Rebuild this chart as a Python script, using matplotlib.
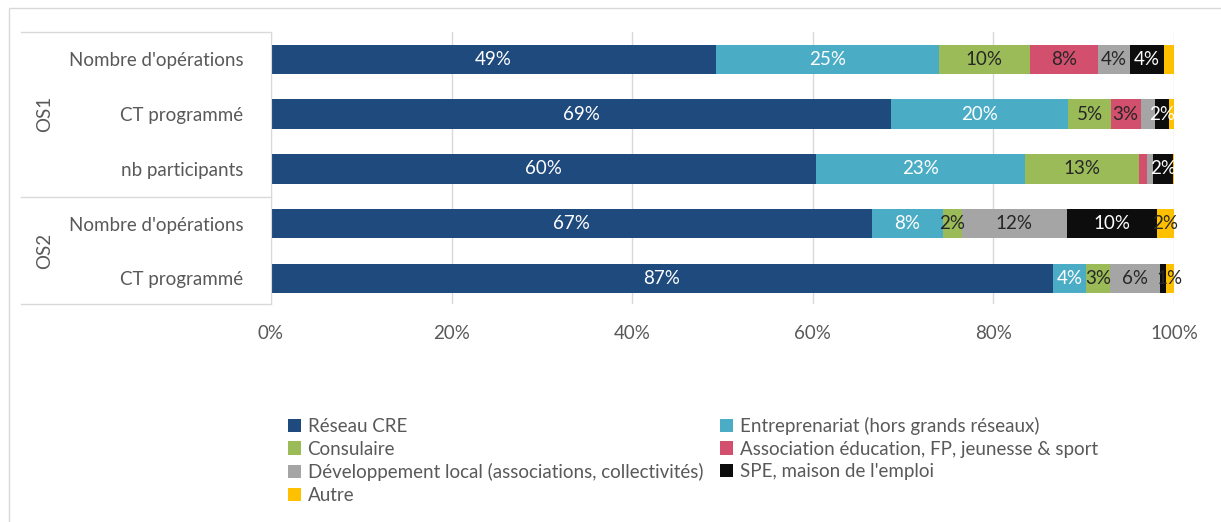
import numpy as np
import matplotlib.pyplot as plt
from matplotlib.patches import Patch, Rectangle
from matplotlib.lines import Line2D

plt.rcParams['font.family'] = ['Lato', 'DejaVu Sans']

# rows, top to bottom
rows = ["Nombre d'opérations", "CT programmé", "nb participants",
        "Nombre d'opérations", "CT programmé"]
groups = ["OS1", "OS2"]

series = ["Réseau CRE", "Entreprenariat (hors grands réseaux)", "Consulaire",
          "Association éducation, FP, jeunesse & sport",
          "Développement local (associations, collectivités)",
          "SPE, maison de l'emploi", "Autre"]

reseau = [49.3, 68.7, 60.4, 66.6, 86.6]
entrep = [24.7, 19.6, 23.1, 7.8, 3.7]
consul = [10.0, 4.7, 12.6, 2.1, 2.6]
assoc = [7.6, 3.3, 0.9, 0.0, 0.0]
devloc = [3.5, 1.6, 0.7, 11.6, 5.5]
spe = [3.8, 1.6, 2.2, 10.0, 0.7]
autre = [1.1, 0.5, 0.1, 1.9, 0.9]

# which data labels are displayed
show_reseau = [1, 1, 1, 1, 1]
show_entrep = [1, 1, 1, 1, 1]
show_consul = [1, 1, 1, 1, 1]
show_assoc = [1, 1, 0, 0, 0]
show_devloc = [1, 0, 0, 1, 1]
show_spe = [1, 1, 1, 1, 0]
show_autre = [0, 0, 0, 1, 1]

colors = ['#1F4A7E', '#4BACC6', '#9BBB59', '#D24F6E', '#A5A5A5', '#0D0D0D', '#FFC000']
label_colors = ['white', 'white', '#262626', '#262626', '#262626', 'white', '#262626']

values = [reseau, entrep, consul, assoc, devloc, spe, autre]
shows = [show_reseau, show_entrep, show_consul, show_assoc, show_devloc, show_spe, show_autre]

fig = plt.figure(figsize=(12.21, 5.22), dpi=100)
W, H = 1221, 522
ax = fig.add_axes([271 / W, 1 - 304 / H, 903 / W, 272 / H])

y = np.arange(len(rows))
left = np.zeros(len(rows))
for vals, col, lc, show in zip(values, colors, label_colors, shows):
    vals = np.array(vals)
    ax.barh(y, vals, left=left, height=0.54, color=col, zorder=2)
    for i, v in enumerate(vals):
        if show[i]:
            ax.text(left[i] + v / 2, y[i], f"{v:.0f}%", ha='center', va='center',
                    color=lc, fontsize=13.5, zorder=3)
    left += vals

ax.set_xlim(0, 100)
ax.set_ylim(4.47, -0.5)
ax.set_xticks(np.arange(0, 101, 20))
ax.set_xticklabels([f"{t}%" for t in range(0, 101, 20)])
ax.set_yticks(y)
ax.set_yticklabels(rows)
ax.tick_params(axis='both', length=0, labelsize=13.5, colors='#595959')
ax.tick_params(axis='y', pad=20)
ax.tick_params(axis='x', pad=15)
ax.grid(axis='x', color='#D9D9D9', linewidth=1, zorder=0)
for s in ['top', 'right', 'bottom']:
    ax.spines[s].set_visible(False)
ax.spines['left'].set_color('#D9D9D9')

# category group box
x0 = 21 / W
x1 = 271 / W
for yy in [32, 197, 304]:
    fig.add_artist(Line2D([x0, x1], [1 - yy / H, 1 - yy / H], color='#D9D9D9', lw=1))
fig.text(45 / W, 1 - 114 / H, groups[0], rotation=90, ha='center', va='center',
         fontsize=13.5, color='#595959')
fig.text(45 / W, 1 - 251 / H, groups[1], rotation=90, ha='center', va='center',
         fontsize=13.5, color='#595959')

# outer chart border
fig.add_artist(Rectangle((9 / W, -0.01), 1.0, 1 - 8 / H + 0.01, fill=False,
                         edgecolor='#D9D9D9', lw=1, transform=fig.transFigure))

handles = [Patch(facecolor=c, label=s) for c, s in zip(colors, series)]
order = [0, 2, 4, 6, 1, 3, 5]
fig.legend([handles[i] for i in order], [series[i] for i in order],
           loc='upper left', bbox_to_anchor=(271 / W, 1 - 400 / H), ncol=2,
           frameon=False, fontsize=13.5, handlelength=0.7, handleheight=0.7,
           handletextpad=0.35, columnspacing=0.9, labelspacing=0.3,
           labelcolor='#595959')

fig.savefig('out.png', dpi=100)
